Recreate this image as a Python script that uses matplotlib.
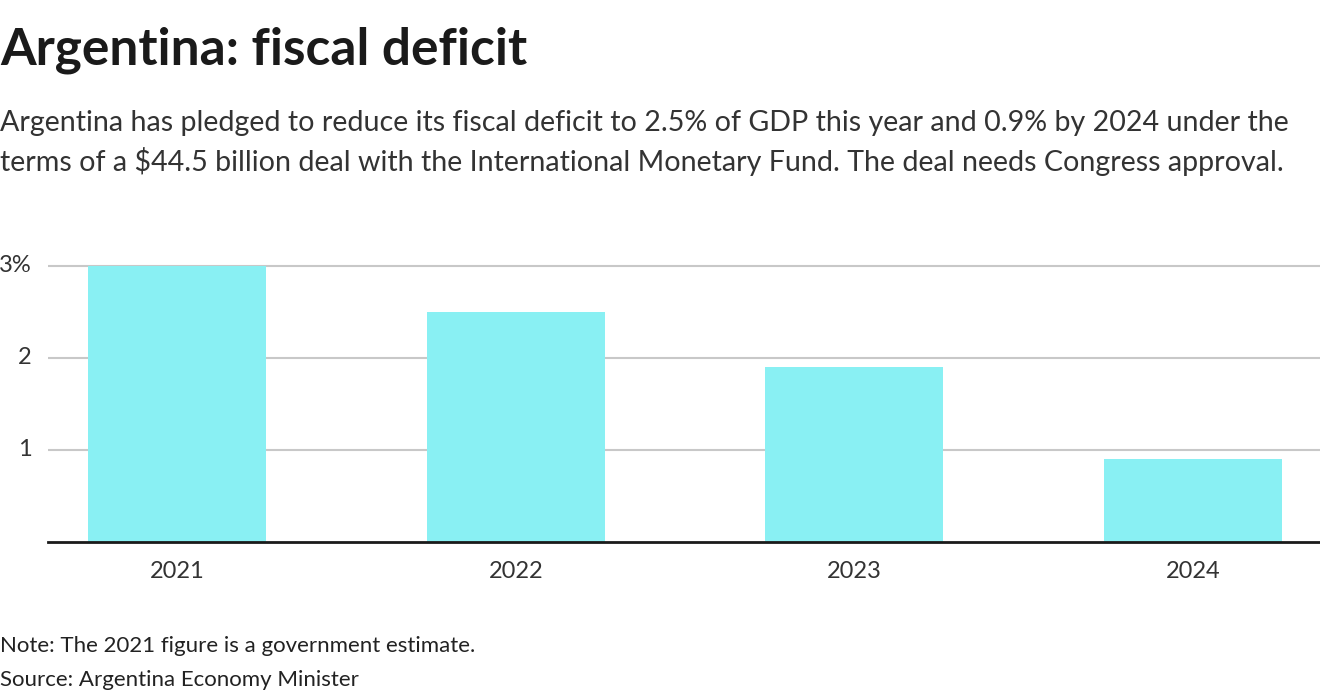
import matplotlib.pyplot as plt

years = ["2021", "2022", "2023", "2024"]
deficit = [3.0, 2.5, 1.9, 0.9]
yticks = [1, 2, 3]
ytick_labels = ["1", "2", "3%"]

title = "Argentina: fiscal deficit"
subtitle = ("Argentina has pledged to reduce its fiscal deficit to 2.5% of GDP this year and 0.9% by 2024 under the\n"
            "terms of a $44.5 billion deal with the International Monetary Fund. The deal needs Congress approval.")
note = "Note: The 2021 figure is a government estimate."
source = "Source: Argentina Economy Minister"

plt.rcParams['font.family'] = ['Lato', 'DejaVu Sans']

fig = plt.figure(figsize=(13.2, 7), dpi=100)
ax = fig.add_axes([48 / 1320, 1 - 542 / 700, 1 - 48 / 1320, 285.2 / 700])

x = list(range(len(years)))
ax.bar(x, deficit, width=0.527, color="#89F0F3", zorder=2)

ax.set_xlim(-0.382, 3.376)
ax.set_ylim(0, 3.1)
ax.set_yticks(yticks)
ax.set_yticklabels(ytick_labels)
ax.set_xticks(x)
ax.set_xticklabels(years)
ax.grid(axis="y", color="#c8c8c8", linewidth=1.5, zorder=1)
ax.tick_params(axis="y", length=0, pad=12, labelsize=17, labelcolor="#333333")
ax.tick_params(axis="x", length=0, pad=14, labelsize=17, labelcolor="#333333")
for lbl in ax.get_yticklabels():
    lbl.set_verticalalignment("center")

for s in ["top", "right", "left"]:
    ax.spines[s].set_visible(False)
ax.spines["bottom"].set_color("#1a1a1a")
ax.spines["bottom"].set_linewidth(2)
ax.spines["bottom"].set_zorder(3)

fig.text(0.0, 1 - 50 / 700, title, fontsize=37, fontweight="bold", color="#1a1a1a",
         va="center", ha="left")
fig.text(0.0, 1 - 143 / 700, subtitle, fontsize=20.6, color="#333333",
         va="center", ha="left", linespacing=1.45)
fig.text(0.0, 1 - 646 / 700, note, fontsize=16, color="#222222", va="center", ha="left")
fig.text(0.0, 1 - 680 / 700, source, fontsize=16, color="#222222", va="center", ha="left")

fig.savefig("out.png", dpi=100)
